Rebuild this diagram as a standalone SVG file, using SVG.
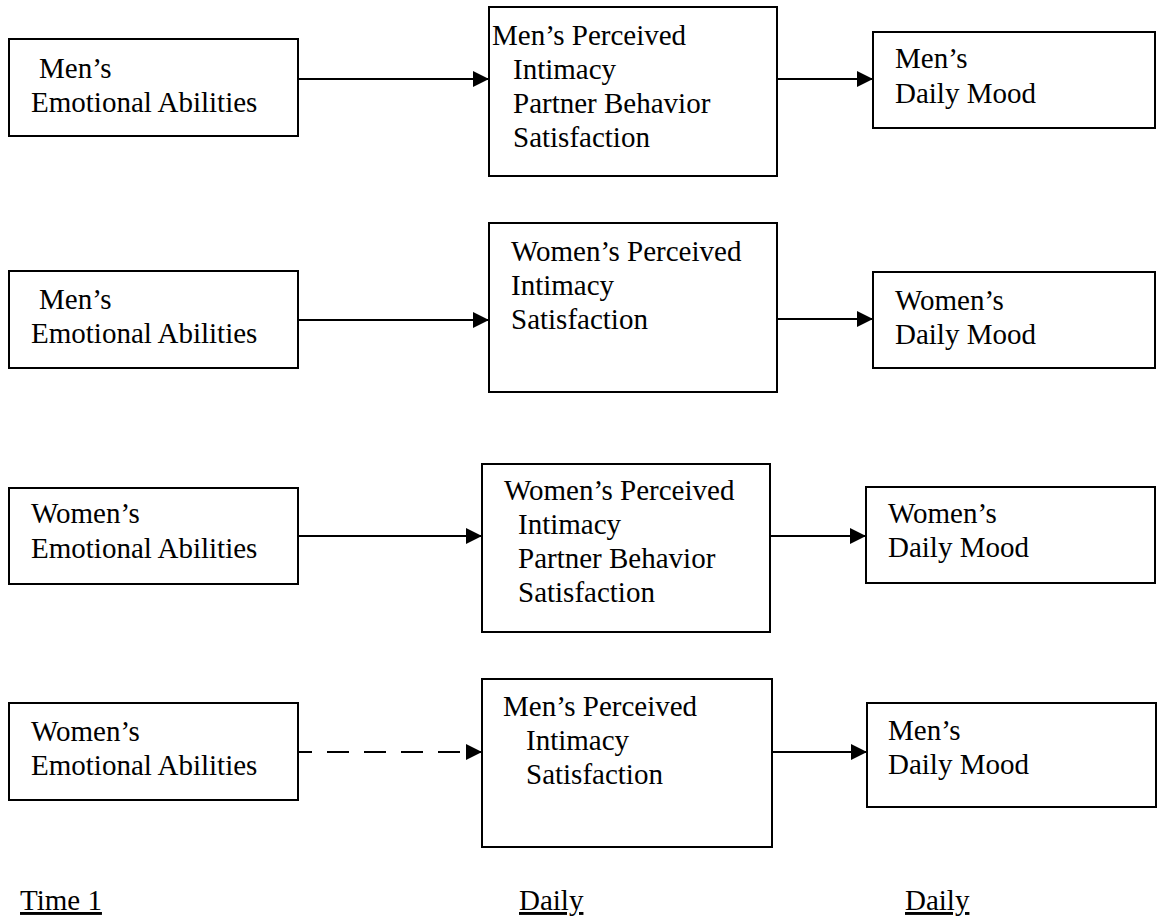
<svg xmlns="http://www.w3.org/2000/svg" width="1165" height="922" viewBox="0 0 1165 922">
  <style>
    .box { fill: #fff; stroke: #000; stroke-width: 2; }
    .lbl { font-family: "Liberation Serif", "Times New Roman", serif; font-size: 29px; fill: #000; }
    .edge { stroke: #000; stroke-width: 2.2; fill: none; marker-end: url(#head); }
    .dash { stroke-dasharray: 22 15; }
    .axis { text-decoration: underline; }
  </style>
  <defs>
    <marker id="head" markerUnits="userSpaceOnUse" markerWidth="17" markerHeight="16" refX="16" refY="8" orient="auto">
      <path d="M0,0 L16,8 L0,16 Z" fill="#000"/>
    </marker>
  </defs>
  <rect width="1165" height="922" fill="#fff"/>

  <!-- connectors -->
  <g id="connectors">
    <line class="edge" x1="298" y1="79" x2="489" y2="79"/>
    <line class="edge" x1="777" y1="79" x2="873" y2="79"/>
    <line class="edge" x1="298" y1="320" x2="489" y2="320"/>
    <line class="edge" x1="777" y1="319" x2="873" y2="319"/>
    <line class="edge" x1="289" y1="536" x2="482" y2="536"/>
    <line class="edge" x1="770" y1="536" x2="866" y2="536"/>
    <line class="edge dash" x1="290" y1="752" x2="482" y2="752"/>
    <line class="edge" x1="772" y1="752" x2="867" y2="752"/>
  </g>

  <!-- row 1 -->
  <g id="men-abilities-1">
    <rect class="box" x="9" y="39" width="289" height="97"/>
    <text class="lbl" x="39" y="78">Men’s</text>
    <text class="lbl" x="31" y="112">Emotional Abilities</text>
  </g>
  <g id="men-perceived-1">
    <rect class="box" x="489" y="7" width="288" height="169"/>
    <text class="lbl" x="492" y="45">Men’s Perceived</text>
    <text class="lbl" x="513" y="79">Intimacy</text>
    <text class="lbl" x="513" y="113">Partner Behavior</text>
    <text class="lbl" x="513" y="147">Satisfaction</text>
  </g>
  <g id="men-mood-1">
    <rect class="box" x="873" y="32" width="282" height="96"/>
    <text class="lbl" x="895" y="68">Men’s</text>
    <text class="lbl" x="895" y="103">Daily Mood</text>
  </g>

  <!-- row 2 -->
  <g id="men-abilities-2">
    <rect class="box" x="9" y="271" width="289" height="97"/>
    <text class="lbl" x="39" y="309">Men’s</text>
    <text class="lbl" x="31" y="343">Emotional Abilities</text>
  </g>
  <g id="women-perceived-2">
    <rect class="box" x="489" y="223" width="288" height="169"/>
    <text class="lbl" x="511" y="261">Women’s Perceived</text>
    <text class="lbl" x="511" y="295">Intimacy</text>
    <text class="lbl" x="511" y="329">Satisfaction</text>
  </g>
  <g id="women-mood-2">
    <rect class="box" x="873" y="272" width="282" height="96"/>
    <text class="lbl" x="895" y="310">Women’s</text>
    <text class="lbl" x="895" y="344">Daily Mood</text>
  </g>

  <!-- row 3 -->
  <g id="women-abilities-3">
    <rect class="box" x="9" y="488" width="289" height="96"/>
    <text class="lbl" x="31" y="523">Women’s</text>
    <text class="lbl" x="31" y="558">Emotional Abilities</text>
  </g>
  <g id="women-perceived-3">
    <rect class="box" x="482" y="464" width="288" height="168"/>
    <text class="lbl" x="504" y="500">Women’s Perceived</text>
    <text class="lbl" x="518" y="534">Intimacy</text>
    <text class="lbl" x="518" y="568">Partner Behavior</text>
    <text class="lbl" x="518" y="602">Satisfaction</text>
  </g>
  <g id="women-mood-3">
    <rect class="box" x="866" y="487" width="289" height="96"/>
    <text class="lbl" x="888" y="523">Women’s</text>
    <text class="lbl" x="888" y="557">Daily Mood</text>
  </g>

  <!-- row 4 -->
  <g id="women-abilities-4">
    <rect class="box" x="9" y="703" width="289" height="97"/>
    <text class="lbl" x="31" y="741">Women’s</text>
    <text class="lbl" x="31" y="775">Emotional Abilities</text>
  </g>
  <g id="men-perceived-4">
    <rect class="box" x="482" y="679" width="290" height="168"/>
    <text class="lbl" x="503" y="716">Men’s Perceived</text>
    <text class="lbl" x="526" y="750">Intimacy</text>
    <text class="lbl" x="526" y="784">Satisfaction</text>
  </g>
  <g id="men-mood-4">
    <rect class="box" x="867" y="703" width="289" height="104"/>
    <text class="lbl" x="888" y="740">Men’s</text>
    <text class="lbl" x="888" y="774">Daily Mood</text>
  </g>

  <!-- time axis labels -->
  <g id="time-labels">
    <text class="lbl axis" x="20" y="910">Time 1</text>
    <text class="lbl axis" x="519" y="910">Daily</text>
    <text class="lbl axis" x="905" y="910">Daily</text>
  </g>
</svg>
